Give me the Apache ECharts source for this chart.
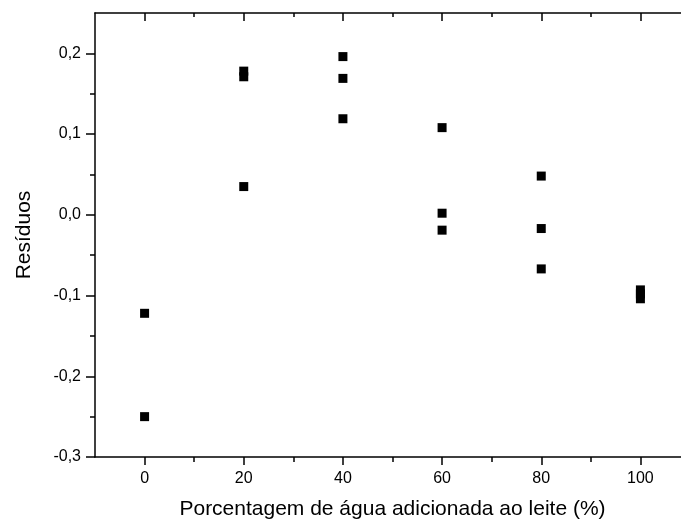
<!DOCTYPE html>
<html>
<head>
<meta charset="utf-8">
<script src="https://cdn.jsdelivr.net/npm/echarts@6/dist/echarts.min.js"></script>
<style>
html,body{margin:0;padding:0;background:#fff;}
#chart{width:681px;height:522px;}
</style>
</head>
<body>
<div id="chart"></div>
<script>
// Data
const xValues = [0, 0, 20, 20, 20, 40, 40, 40, 60, 60, 60, 80, 80, 80, 100, 100, 100];
const residuals = [-0.122, -0.250, 0.178, 0.171, 0.035, 0.196, 0.169, 0.119, 0.108, 0.002, -0.019, 0.048, -0.017, -0.067, -0.093, -0.098, -0.104];
const xMajorTicks = [0, 20, 40, 60, 80, 100];
const xMinorTicks = [10, 30, 50, 70, 90];
const yMajorTicks = [-0.3, -0.2, -0.1, 0.0, 0.1, 0.2];
const yMinorTicks = [-0.25, -0.15, -0.05, 0.05, 0.15];
const xTitle = 'Porcentagem de água adicionada ao leite (%)';
const yTitle = 'Resíduos';
const xMin = -10, xMax = 110;
const yMin = -0.3, yMax = 0.25;

const FONT = 'Liberation Sans, Arial, sans-serif';
const lineStyle = { color: '#000', width: 1.5 };
// the frame of the original extends past the right edge of the picture
const gridRect = { left: 95, top: 13, right: -9, bottom: 65, containLabel: false, outerBoundsMode: 'none' };

function xAxis(grid, pos, ticks, len, inside, showLabel, showLine, extra) {
  return Object.assign({
    type: 'value', gridIndex: grid, position: pos, min: xMin, max: xMax,
    axisLine: { show: showLine, onZero: false, lineStyle: lineStyle },
    axisTick: { show: true, customValues: ticks, length: len, inside: inside, lineStyle: lineStyle },
    axisLabel: showLabel ? { show: true, customValues: ticks, fontSize: 16, color: '#000', fontFamily: FONT, margin: 14 } : { show: false },
    splitLine: { show: false }
  }, extra || {});
}
function yAxis(grid, pos, ticks, len, inside, showLabel, showLine, extra) {
  return Object.assign({
    type: 'value', gridIndex: grid, position: pos, min: yMin, max: yMax,
    axisLine: { show: showLine, onZero: false, lineStyle: lineStyle },
    axisTick: { show: true, customValues: ticks, length: len, inside: inside, lineStyle: lineStyle },
    axisLabel: showLabel ? { show: true, customValues: ticks, fontSize: 16, color: '#000', fontFamily: FONT, margin: 14,
      formatter: v => v.toFixed(1).replace('.', ',') } : { show: false },
    splitLine: { show: false }
  }, extra || {});
}

const chart = echarts.init(document.getElementById('chart'), null, { renderer: 'canvas' });
chart.setOption({
  animation: false,
  backgroundColor: '#fff',
  grid: [Object.assign({}, gridRect), Object.assign({}, gridRect)],
  xAxis: [
    xAxis(0, 'bottom', xMajorTicks, 8, false, true, true, {
      name: xTitle, nameLocation: 'middle', nameGap: 42,
      nameTextStyle: { fontSize: 21, color: '#000', fontFamily: FONT }
    }),
    xAxis(0, 'top', xMajorTicks, 8, true, false, true),
    xAxis(1, 'bottom', xMinorTicks, 5, false, false, false),
    xAxis(1, 'top', xMinorTicks, 4, true, false, false)
  ],
  yAxis: [
    yAxis(0, 'left', yMajorTicks, 9, false, true, true, {
      name: yTitle, nameLocation: 'middle', nameGap: 60,
      nameTextStyle: { fontSize: 21, color: '#000', fontFamily: FONT }
    }),
    yAxis(0, 'right', yMajorTicks, 8, true, false, true),
    yAxis(1, 'left', yMinorTicks, 5, false, false, false),
    yAxis(1, 'right', yMinorTicks, 4, true, false, false)
  ],
  series: [{
    type: 'scatter',
    xAxisIndex: 0, yAxisIndex: 0,
    symbol: 'rect', symbolSize: 9,
    itemStyle: { color: '#000', opacity: 1 },
    data: xValues.map((x, i) => [x, residuals[i]])
  }]
});
</script>
</body>
</html>
